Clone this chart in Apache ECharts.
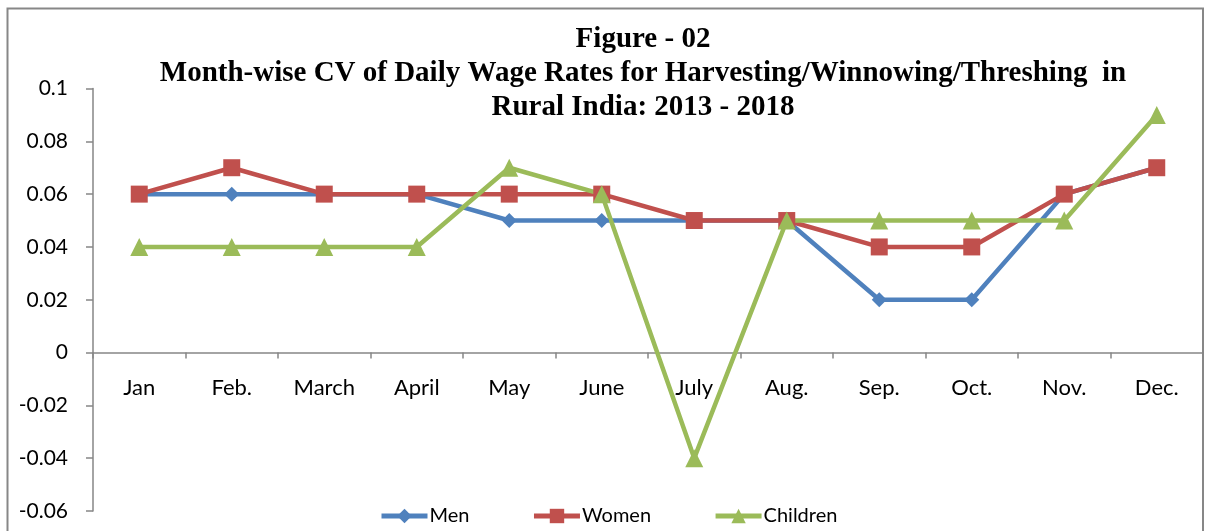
<!DOCTYPE html>
<html>
<head>
<meta charset="utf-8">
<script src="https://cdn.jsdelivr.net/npm/echarts@6/dist/echarts.min.js"></script>
<style>
html,body{margin:0;padding:0;background:#fff;}
#chart{width:1206px;height:531px;}
</style>
</head>
<body>
<div id="chart"></div>
<script>
const categories = ['Jan', 'Feb.', 'March', 'April', 'May', 'June', 'July', 'Aug.', 'Sep.', 'Oct.', 'Nov.', 'Dec.'];
const men = [0.06, 0.06, 0.06, 0.06, 0.05, 0.05, 0.05, 0.05, 0.02, 0.02, 0.06, 0.07];
const women = [0.06, 0.07, 0.06, 0.06, 0.06, 0.06, 0.05, 0.05, 0.04, 0.04, 0.06, 0.07];
const children = [0.04, 0.04, 0.04, 0.04, 0.07, 0.06, -0.04, 0.05, 0.05, 0.05, 0.05, 0.09];
const yMin = -0.06, yMax = 0.1, yStep = 0.02;
const titleText = 'Figure - 02\nMonth-wise CV of Daily Wage Rates for Harvesting/Winnowing/Threshing  in\nRural India: 2013 - 2018';

const chart = echarts.init(document.getElementById('chart'));
const labelFont = 'Lato';
const gridTop = 88.5, gridH = 422.5;
// place the category axis line at value 0 using an offset from the grid bottom
const zeroOffset = -gridH * (0 - yMin) / (yMax - yMin);
function mk(name, data, color, symbol, size) {
  return {
    name: name, type: 'line', data: data,
    symbol: symbol, symbolSize: size,
    lineStyle: {color: color, width: 4.5},
    itemStyle: {color: color},
    emphasis: {disabled: true},
    animation: false
  };
}
chart.setOption({
  animation: false,
  title: {
    text: titleText,
    left: 638, top: 18, textAlign: 'center',
    textStyle: {fontFamily: 'Liberation Serif', fontWeight: 'bold', fontSize: 29, lineHeight: 34, color: '#000'}
  },
  graphic: [{
    type: 'rect', shape: {x: 7.5, y: 8.5, width: 1195.5, height: 540},
    style: {fill: null, stroke: '#878787', lineWidth: 2}, silent: true
  }],
  legend: {
    bottom: 0, left: 374,
    itemWidth: 46, itemHeight: 18, itemGap: 62,
    lineStyle: {width: 5},
    textStyle: {fontFamily: labelFont, fontSize: 20, color: '#000', padding: [0, 0, 0, -3]},
    data: ['Men', 'Women', 'Children']
  },
  grid: {left: 93, right: 3, top: gridTop, height: gridH, outerBoundsMode: 'none', containLabel: false},
  xAxis: {
    type: 'category', data: categories, boundaryGap: true,
    offset: zeroOffset,
    axisLine: {onZero: false, lineStyle: {color: '#868686', width: 1.5}},
    axisTick: {show: true, length: 6, lineStyle: {color: '#868686', width: 1.5}},
    axisLabel: {fontFamily: labelFont, fontSize: 22, color: '#000', margin: 24}
  },
  yAxis: {
    type: 'value', min: yMin, max: yMax, interval: yStep,
    splitLine: {show: false},
    axisLine: {show: true, lineStyle: {color: '#868686', width: 1.5}},
    axisTick: {show: true, length: 7, lineStyle: {color: '#868686', width: 1.5}},
    axisLabel: {fontFamily: labelFont, fontSize: 21, color: '#000', margin: 25}
  },
  series: [
    mk('Men', men, '#4F81BD', 'diamond', 15),
    mk('Women', women, '#C0504D', 'rect', 17),
    mk('Children', children, '#9BBB59', 'triangle', 18)
  ]
});
</script>
</body>
</html>
